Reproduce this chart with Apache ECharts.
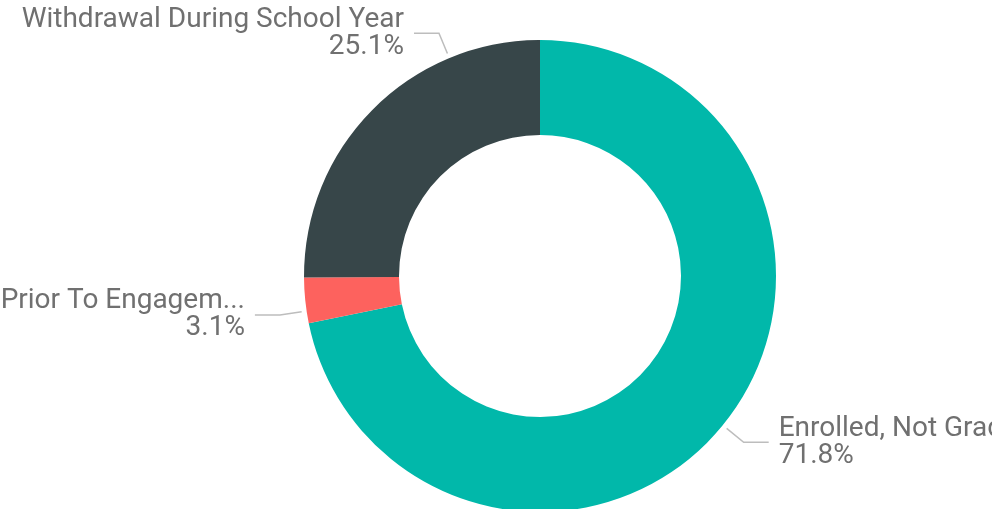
<!DOCTYPE html>
<html>
<head>
<meta charset="utf-8">
<title>Enrollment outcome</title>
<script src="https://cdn.jsdelivr.net/npm/echarts@6/dist/echarts.min.js"></script>
<style>
  html, body { margin: 0; padding: 0; background: #ffffff; }
  #chart { width: 992px; height: 509px; }
</style>
</head>
<body>
<div id="chart"></div>
<script>
// Slice categories and their shares (percent of students)
const categories = ['Enrolled, Not Graduated', 'Prior To Engagement', 'Withdrawal During School Year'];
const shares = [71.8, 3.1, 25.1];
const colors = ['#01B8AA', '#FD625E', '#374649'];

// Ring geometry (pixels)
const CX = 540, CY = 276, R_IN = 141, R_OUT = 236;
// Where along each slice the guide line is attached (0 = start, 1 = end)
const anchorAt = [0.5, 0.27, 0.75];
const GAP = 5, LEN1 = 22, LEN2 = 25, TEXT_GAP = 10;

const total = shares.reduce((a, b) => a + b, 0);

// point on a circle, angle in degrees clockwise from 12 o'clock
function polar(deg, r) {
  const a = deg * Math.PI / 180;
  return [CX + r * Math.sin(a), CY - r * Math.cos(a)];
}

function guide(idx) {
  let before = 0;
  for (let i = 0; i < idx; i++) before += shares[i];
  const deg = (before + shares[idx] * anchorAt[idx]) / total * 360;
  const p0 = polar(deg, R_OUT + GAP);
  const p1 = polar(deg, R_OUT + GAP + LEN1);
  const right = Math.sin(deg * Math.PI / 180) >= 0;
  const p2 = [p1[0] + (right ? LEN2 : -LEN2), p1[1]];
  return { points: [p0, p1, p2], right: right };
}

const chart = echarts.init(document.getElementById('chart'), null, { renderer: 'canvas' });

chart.setOption({
  backgroundColor: '#ffffff',
  animation: false,
  series: [{
    type: 'pie',
    center: [CX, CY],
    radius: [R_IN, R_OUT],
    startAngle: 90,
    clockwise: true,
    percentPrecision: 1,
    avoidLabelOverlap: false,
    itemStyle: { borderWidth: 0 },
    label: {
      show: true,
      position: 'outside',
      formatter: '{b}\n{d}%',
      fontFamily: 'Roboto',
      fontSize: 28,
      lineHeight: 27,
      color: '#707070',
      width: 420,
      overflow: 'none'
    },
    labelLine: {
      show: true,
      lineStyle: { color: '#bdbdbd', width: 1.5 }
    },
    labelLayout: function (params) {
      const g = guide(params.dataIndex);
      const end = g.points[2];
      return {
        x: end[0] + (g.right ? TEXT_GAP : -TEXT_GAP),
        y: end[1],
        align: g.right ? 'left' : 'right',
        verticalAlign: 'middle',
        labelLinePoints: g.points
      };
    },
    data: categories.map((name, i) => {
      const item = { name: name, value: shares[i], itemStyle: { color: colors[i] } };
      if (i === 1) {
        item.label = { width: 246, overflow: 'truncate', ellipsis: '...' };
      }
      return item;
    })
  }]
});
</script>
</body>
</html>
